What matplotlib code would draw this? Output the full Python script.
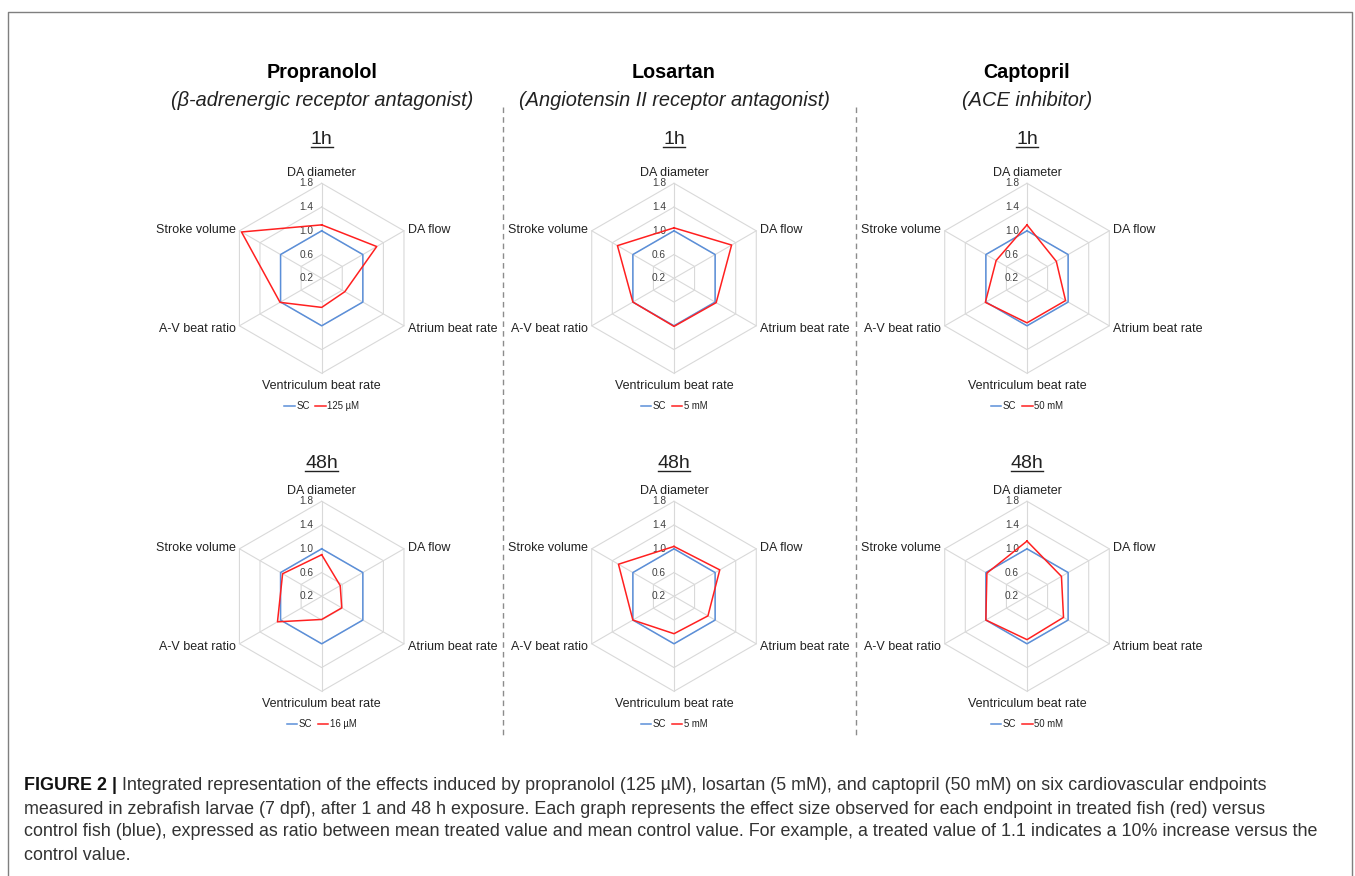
import matplotlib
matplotlib.use("Agg")
import matplotlib.pyplot as plt
import numpy as np
from matplotlib.lines import Line2D
from matplotlib.transforms import offset_copy

# ---------------- data ----------------
categories = ["DA diameter", "DA flow", "Atrium beat rate",
              "Ventriculum beat rate", "A-V beat ratio", "Stroke volume"]
drugs = ["Propranolol", "Losartan", "Captopril"]
drug_classes = ["(β-adrenergic receptor antagonist)",
                "(Angiotensin II receptor antagonist)",
                "(ACE inhibitor)"]
times = ["1h", "48h"]
r_ticks = [0.2, 0.6, 1.0, 1.4, 1.8]

sc_values = [1.0, 1.0, 1.0, 1.0, 1.0, 1.0]

propranolol_1h = [1.10, 1.27, 0.65, 0.69, 1.01, 1.76]
losartan_1h = [1.05, 1.32, 1.02, 1.01, 1.00, 1.30]
captopril_1h = [1.10, 0.77, 0.95, 0.95, 1.01, 0.80]
propranolol_48h = [0.90, 0.56, 0.59, 0.59, 1.06, 0.96]
losartan_48h = [1.04, 1.09, 0.86, 0.83, 1.00, 1.28]
captopril_48h = [1.13, 0.87, 0.91, 0.93, 1.00, 0.98]

dose_labels_1h = ["125 µM", "5 mM", "50 mM"]
dose_labels_48h = ["16 µM", "5 mM", "50 mM"]

caption_bold = "FIGURE 2 |"
caption_lines = [
    "Integrated representation of the effects induced by propranolol (125 µM), losartan (5 mM), and captopril (50 mM) on six cardiovascular endpoints",
    "measured in zebrafish larvae (7 dpf), after 1 and 48 h exposure. Each graph represents the effect size observed for each endpoint in treated fish (red) versus",
    "control fish (blue), expressed as ratio between mean treated value and mean control value. For example, a treated value of 1.1 indicates a 10% increase versus the",
    "control value.",
]

treated = [[propranolol_1h, losartan_1h, captopril_1h],
           [propranolol_48h, losartan_48h, captopril_48h]]
dose_labels = [dose_labels_1h, dose_labels_48h]

# ---------------- style ----------------
W, H = 1355, 876
fig = plt.figure(figsize=(W / 100, H / 100), dpi=100)
fig.patch.set_facecolor("white")
plt.rcParams["font.family"] = ["Liberation Sans", "DejaVu Sans"]

BLUE = "#5b8fd9"
RED = "#ff2020"
GRID = "#d9d9d9"
TXT = "#222222"


def fx(px):
    return px / W


def fy(py):
    return 1 - py / H


R = 95
col_x = [321.7, 674.0, 1027.0]
row_y = [278.3, 596.3]

angles = np.deg2rad(np.arange(6) * 60.0)
ang_closed = np.append(angles, angles[0])

renderer = fig.canvas.get_renderer()

for ri, cy in enumerate(row_y):
    for ci, cx in enumerate(col_x):
        ax = fig.add_axes([fx(cx - R), fy(cy + R), 2 * R / W, 2 * R / H],
                          projection="polar")
        ax.set_theta_zero_location("N")
        ax.set_theta_direction(-1)
        ax.set_ylim(r_ticks[0], r_ticks[-1])
        ax.set_xticks([])
        ax.set_yticks([])
        ax.grid(False)
        ax.spines["polar"].set_visible(False)
        ax.patch.set_visible(False)

        # hexagonal grid
        for r in r_ticks[1:]:
            ax.plot(ang_closed, [r] * 7, color=GRID, lw=0.8, zorder=1,
                    clip_on=False)
        for a in angles:
            ax.plot([a, a], [r_ticks[0], r_ticks[-1]], color=GRID, lw=0.8,
                    zorder=1, clip_on=False)

        # tick labels
        tr = offset_copy(ax.transData, fig=fig, x=-8, y=0, units="dots")
        for r in r_ticks:
            ax.text(0, r, f"{r:.1f}", transform=tr, ha="right", va="center",
                    fontsize=7.3, color="#404040", zorder=3)

        # data
        sc = np.append(sc_values, sc_values[0])
        tv = np.append(treated[ri][ci], treated[ri][ci][0])
        ax.plot(ang_closed, sc, color=BLUE, lw=1.1, zorder=4, clip_on=False)
        ax.plot(ang_closed, tv, color=RED, lw=1.1, zorder=5, clip_on=False)

        # category labels (axes coords; centre = 0.5, radius = 0.5)
        fs = 9
        ax.text(0.5, 0.5 + 105 / 190, categories[0], transform=ax.transAxes,
                ha="center", va="center", fontsize=fs, color=TXT)
        ax.text(0.5 + 86 / 190, 0.5 + 48 / 190, categories[1],
                transform=ax.transAxes, ha="left", va="center", fontsize=fs,
                color=TXT)
        ax.text(0.5 + 86 / 190, 0.5 - 51 / 190, categories[2],
                transform=ax.transAxes, ha="left", va="center", fontsize=fs,
                color=TXT)
        ax.text(0.5, 0.5 - 108 / 190, categories[3], transform=ax.transAxes,
                ha="center", va="center", fontsize=fs, color=TXT)
        ax.text(0.5 - 86 / 190, 0.5 - 51 / 190, categories[4],
                transform=ax.transAxes, ha="right", va="center", fontsize=fs,
                color=TXT)
        ax.text(0.5 - 86 / 190, 0.5 + 48 / 190, categories[5],
                transform=ax.transAxes, ha="right", va="center", fontsize=fs,
                color=TXT)

        handles = [Line2D([], [], color=BLUE, lw=1.1),
                   Line2D([], [], color=RED, lw=1.1)]
        leg = ax.legend(handles, ["SC", dose_labels[ri][ci]], loc="center",
                        bbox_to_anchor=(0.5, 0.5 - 128 / 190), ncol=2,
                        frameon=False, fontsize=6.9, handlelength=1.1,
                        handletextpad=0.15, columnspacing=0.6,
                        borderaxespad=0, borderpad=0)
        for t in leg.get_texts():
            t.set_color(TXT)

        # time header, underlined
        base_y = 143.5 if ri == 0 else 467.5
        th = fig.text(fx(cx), fy(base_y), times[ri], ha="center",
                      va="baseline", fontsize=14, color=TXT)
        bb = th.get_window_extent(renderer)
        uy = fy(base_y + 3)
        fig.add_artist(Line2D([bb.x0 / W, bb.x1 / W], [uy, uy],
                              transform=fig.transFigure, color=TXT, lw=1.0))

# column headers
for ci, cx in enumerate(col_x):
    fig.text(fx(cx), fy(73), drugs[ci], ha="center", va="center",
             fontsize=14.2, fontweight="bold", color="black")
    fig.text(fx(cx), fy(100), drug_classes[ci], ha="center", va="center",
             fontsize=14.4, style="italic", color=TXT)

# dashed separators
for sx in [502.7, 856.0]:
    fig.add_artist(Line2D([fx(sx), fx(sx)], [fy(107), fy(737)],
                          transform=fig.transFigure, color="#8c8c8c", lw=1.0,
                          linestyle=(0, (4, 3))))

# border
fig.add_artist(Line2D([fx(8.3), fx(8.3), fx(1352), fx(1352)],
                      [fy(876), fy(11.7), fy(11.7), fy(876)],
                      transform=fig.transFigure, color="#7f7f7f", lw=1.0))

# caption: fit font size so that line 3 spans the measured width
probe = fig.text(0, 0, caption_lines[2], fontsize=12)
w = probe.get_window_extent(renderer).width
probe.remove()
cap_fs = 12 * (1323 - 24) / w

line_y = [786, 809, 832, 855]
bt = fig.text(fx(24), fy(line_y[0]), caption_bold, ha="left", va="center",
              fontsize=cap_fs, fontweight="bold", color="#111111")
bbb = bt.get_window_extent(renderer)
sp = cap_fs * 0.28 * 100 / 72
fig.text((bbb.x1 + sp) / W, fy(line_y[0]), caption_lines[0], ha="left",
         va="center", fontsize=cap_fs, color="#333333")
for ly, txt in zip(line_y[1:], caption_lines[1:]):
    fig.text(fx(24), fy(ly), txt, ha="left", va="center", fontsize=cap_fs,
             color="#333333")

fig.savefig("out.png", dpi=100, facecolor="white")
